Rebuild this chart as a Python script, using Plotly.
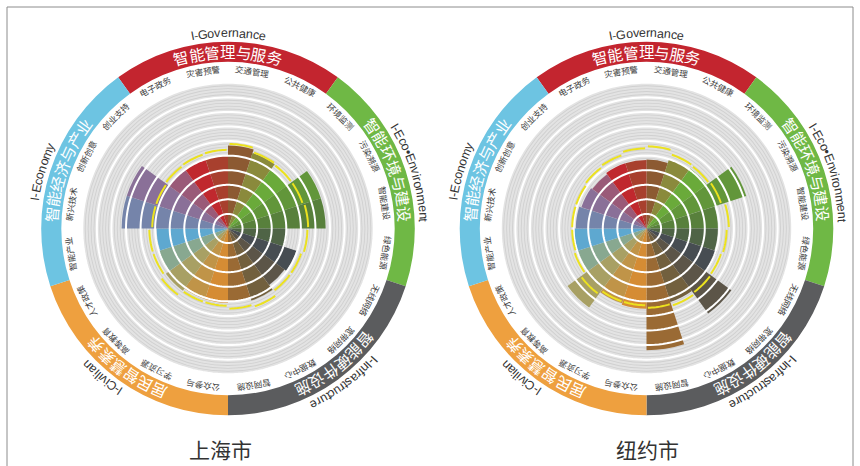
import numpy as np
import plotly.graph_objects as go

W, H = 860, 466

# ---------------- data ----------------
subcats = ["交通管理", "公共健康", "环境监测", "污染溯源", "智能建设", "绿色能源",
           "无线网络", "宽带网络", "数据中心", "智网设施", "公众参与", "学习资源",
           "高等教育", "人才政策", "智能产业", "新兴技术", "创新创意", "创业支持",
           "电子政务", "灾害预警"]

shanghai_values = [5.7, 5.45, 5.0, 6.7, 6.7, 4.05, 4.93, 4.8, 5.2, 5.0,
                   5.1, 5.1, 5.27, 5.0, 4.9, 7.3, 7.3, 5.0, 5.0, 5.0]
shanghai_yellow = [5.8, 5.5, 5.4, 5.4, 5.5, 5.45, 5.3, 5.3, 5.65, 5.5,
                   5.3, 5.3, 5.7, 5.4, 5.4, 5.2, 5.2, 5.3, 5.35, 5.4]

newyork_values = [4.73, 5.0, 5.1, 7.2, 4.9, 4.9, 5.05, 7.2, 5.3, 8.35,
                  5.5, 5.4, 6.7, 5.05, 4.95, 4.85, 4.7, 4.6, 4.7, 4.7]
newyork_yellow = [5.64, 5.35, 5.3, 5.4, 5.65, 5.5, 5.4, 5.45, 5.57, 5.44,
                  5.27, 5.27, 5.57, 5.2, 5.1, 5.1, 5.1, 5.2, 5.3, 5.5]

groups_cn = ["智能管理与服务", "智能环境与建设", "智能硬件设施", "居民智慧素养", "智能经济与产业"]
groups_en = ["I-Governance", "I-Eco•Environment", "I-Infrastructure", "I-Civilian", "I-Economy"]
group_colors = ["#c3252f", "#6fb845", "#5b5c5e", "#eea03f", "#6dc4e2"]
group_cn_center = [0, 70, 142, 216, 290]
group_en_center = [0, 73, 143, 220, 287]

bar_colors = ["#8c5a32", "#8a8a3c", "#6aaa3a", "#62963a", "#58803c", "#4f6446",
              "#474d52", "#5c5548", "#72603e", "#9a6a34", "#d58c34", "#c09448",
              "#a8a064", "#88a890", "#5ea8d0", "#7584aa", "#8a7098", "#9a5a78",
              "#c0282e", "#a8402e"]

cities = ["上海市", "纽约市"]

# ---------------- geometry ----------------
RMAX = 14.0
RAD_PX = 204.0
centers = [(228.0, 228.5), (646.5, 228.5)]
title_x = [221, 647]

theta_c = [i * 18 + 9 for i in range(20)]

fig = go.Figure()


def add_city(k, values, yellow):
    sub = "polar" if k == 0 else "polar2"
    # gray disc
    fig.add_trace(go.Barpolar(r=[10], theta=[180], width=[360], base=0,
                              marker=dict(color="#e3e3e3", line=dict(width=0)),
                              subplot=sub, hoverinfo="skip", showlegend=False))
    # fine texture rings
    tb = [j * 0.2 - 0.03 for j in range(1, 50) if j % 5 != 0]
    fig.add_trace(go.Barpolar(r=[0.06] * len(tb), base=tb, theta=[180] * len(tb),
                              width=[360] * len(tb),
                              marker=dict(color="#d0d0d0", line=dict(width=0)),
                              subplot=sub, hoverinfo="skip", showlegend=False))
    # data bars
    fig.add_trace(go.Barpolar(r=values, theta=theta_c, width=[18] * 20,
                              marker=dict(color=bar_colors, line=dict(width=0), opacity=1),
                              subplot=sub, showlegend=False))
    # outer category ring
    fig.add_trace(go.Barpolar(r=[1.38] * 5, base=[11.44] * 5,
                              theta=[0, 72, 144, 216, 288], width=[72] * 5,
                              marker=dict(color=group_colors, line=dict(width=0)),
                              subplot=sub, hoverinfo="skip", showlegend=False))
    # white grid circles
    ang = np.linspace(0, 360, 181)
    rr, tt = [], []
    for j in range(1, 11):
        rr += [j] * len(ang) + [None]
        tt += list(ang) + [None]
    fig.add_trace(go.Scatterpolar(r=rr, theta=tt, mode="lines",
                                  line=dict(color="white", width=2),
                                  subplot=sub, hoverinfo="skip", showlegend=False))
    # yellow reference arcs
    rr, tt = [], []
    for i, y in enumerate(yellow):
        a = np.linspace(i * 18 + 1.0, i * 18 + 17.0, 12)
        rr += [y] * len(a) + [None]
        tt += list(a) + [None]
    fig.add_trace(go.Scatterpolar(r=rr, theta=tt, mode="lines",
                                  line=dict(color="#ece21e", width=2),
                                  subplot=sub, hoverinfo="skip", showlegend=False))


add_city(0, shanghai_values, shanghai_yellow)
add_city(1, newyork_values, newyork_yellow)

annotations = []


def to_paper(px, py):
    return px / W, 1 - py / H


def place(cx, cy, r_px, ang_deg):
    a = np.radians(ang_deg)
    return cx + r_px * np.sin(a), cy - r_px * np.cos(a)


EN_W = {"I": 0.278, "-": 0.333, "G": 0.778, "o": 0.556, "v": 0.5, "e": 0.556,
        "r": 0.333, "n": 0.556, "a": 0.556, "c": 0.5, "E": 0.667, "•": 0.35,
        "i": 0.222, "m": 0.833, "t": 0.278, "f": 0.278, "s": 0.5, "u": 0.556,
        "C": 0.722, "l": 0.222, "y": 0.5}


def arc_text(cx, cy, text, center_deg, r_px, size, color, family, widths=None, spacing=0.0):
    ws = [(widths.get(ch, 0.556) if widths else 1.0) * size + spacing for ch in text]
    total = sum(ws)
    start = center_deg - np.degrees(total / 2 / r_px)
    cum = 0.0
    for ch, w in zip(text, ws):
        ang = start + np.degrees((cum + w / 2) / r_px)
        cum += w
        px, py = place(cx, cy, r_px, ang)
        x, y = to_paper(px, py)
        annotations.append(dict(x=x, y=y, xref="paper", yref="paper", text=ch,
                                showarrow=False, textangle=ang, xanchor="center",
                                yanchor="middle",
                                font=dict(size=size, color=color, family=family)))


for k, (cx, cy) in enumerate(centers):
    for i, name in enumerate(subcats):
        px, py = place(cx, cy, 159.5, theta_c[i])
        x, y = to_paper(px, py)
        annotations.append(dict(x=x, y=y, xref="paper", yref="paper", text=name,
                                showarrow=False, textangle=theta_c[i],
                                xanchor="center", yanchor="middle",
                                font=dict(size=8.5, color="#3a3a3a",
                                          family="Noto Sans CJK SC")))
    for g in range(5):
        arc_text(cx, cy, groups_cn[g], group_cn_center[g], 177.5, 15.5, "white",
                 "Noto Sans CJK SC", None, 0.3)
        arc_text(cx, cy, groups_en[g], group_en_center[g], 195.5, 12.5, "#333333",
                 "Liberation Sans", EN_W, 0.0)
    x, y = to_paper(title_x[k], 449)
    annotations.append(dict(x=x, y=y, xref="paper", yref="paper", text=cities[k],
                            showarrow=False, xanchor="center", yanchor="middle",
                            font=dict(size=21, color="#333333", family="Noto Sans CJK SC")))


def dom(cx, cy):
    return dict(x=[(cx - RAD_PX) / W, (cx + RAD_PX) / W],
                y=[1 - (cy + RAD_PX) / H, 1 - (cy - RAD_PX) / H])


polar_common = dict(
    bgcolor="rgba(0,0,0,0)",
    radialaxis=dict(visible=False, range=[0, RMAX]),
    angularaxis=dict(visible=False, rotation=90, direction="clockwise"),
    barmode="overlay",
)

fig.update_layout(
    width=W, height=H,
    margin=dict(l=0, r=0, t=0, b=0),
    paper_bgcolor="white",
    plot_bgcolor="white",
    showlegend=False,
    polar=dict(domain=dom(*centers[0]), **polar_common),
    polar2=dict(domain=dom(*centers[1]), **polar_common),
    annotations=annotations,
    shapes=[dict(type="rect", xref="paper", yref="paper",
                 x0=7 / W, x1=853 / W, y0=-0.05, y1=1 - 7 / H,
                 line=dict(color="#8c8c8c", width=1))],
)

fig.write_html("out.html", config={"displayModeBar": False},
               post_script="document.body.style.margin='0';document.body.style.overflow='hidden';")
